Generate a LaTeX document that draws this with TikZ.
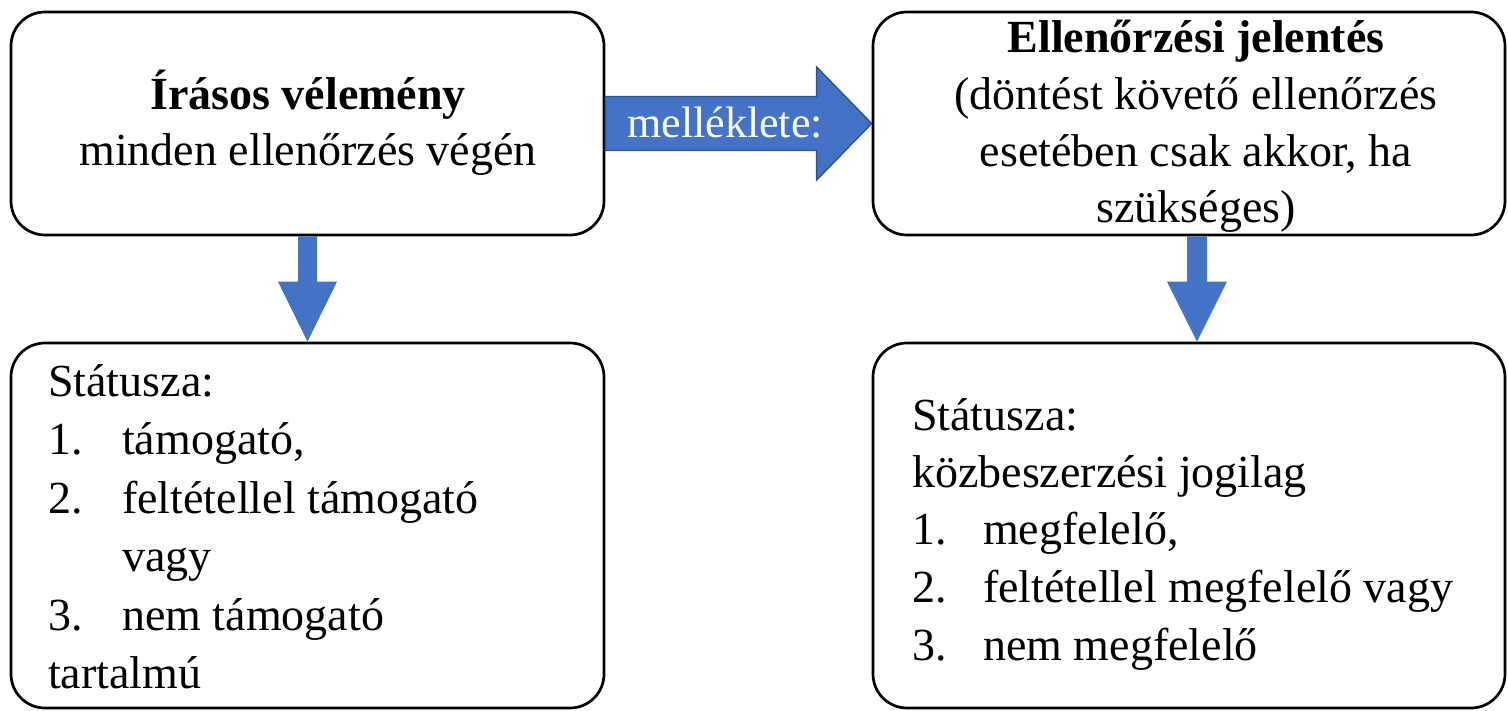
\documentclass[tikz,border=0pt]{standalone}
\usepackage{fontspec}
\setmainfont{Liberation Serif}
\usetikzlibrary{calc}
\definecolor{arrowblue}{HTML}{4472C4}
\definecolor{arrowedge}{HTML}{2F528F}
\tikzset{
  box/.style={draw=black, line width=2.7pt, rounded corners=34pt, fill=white, inner sep=0pt},
  txt/.style={inner sep=0pt, font=\fontsize{46}{57.5}\selectfont},
  blockarrow/.style={fill=arrowblue, draw=arrowedge, line width=1.4pt, line join=miter},
  downarrow/.style={fill=arrowblue},
}
\begin{document}
\begin{tikzpicture}[x=1pt,y=-1pt]
\useasboundingbox (0,0) rectangle (1508,711);
% boxes
\node[box, minimum width=593pt, minimum height=223pt] (A) at (307.5,123.5) {};
\node[box, minimum width=632pt, minimum height=223pt] (B) at (1189,123.5) {};
\node[box, minimum width=593pt, minimum height=365pt] (C) at (307.5,525.5) {};
\node[box, minimum width=632pt, minimum height=365pt] (D) at (1189,525.5) {};
% box A text
\node[txt, anchor=base] (Atitle) at (308,110) {\bfseries Írásos vélemény};
\node[txt, anchor=base] (Asub) at (308,166) {minden ellenőrzés végén};
% box B text
\node[txt, anchor=base] (Btitle) at (1196,53) {\bfseries Ellenőrzési jelentés};
\node[txt, anchor=base] (Bl1) at (1196,110) {(döntést követő ellenőrzés};
\node[txt, anchor=base] (Bl2) at (1196,167) {esetében csak akkor, ha};
\node[txt, anchor=base] (Bl3) at (1196,223) {szükséges)};
% box C list
\node[txt, anchor=base west] (Clist) at (48,396) {\fontsize{46}{58.6}\selectfont\begin{tabular}[t]{@{}p{74pt}@{}l@{}}
\multicolumn{2}{@{}l@{}}{Státusza:}\\
1. & támogató,\\
2. & feltétellel támogató\\
   & vagy\\
3. & nem támogató\\
\multicolumn{2}{@{}l@{}}{tartalmú}
\end{tabular}};
% box D list
\node[txt, anchor=base west] (Dlist) at (912,430) {\fontsize{46}{57.5}\selectfont\begin{tabular}[t]{@{}p{71pt}@{}l@{}}
\multicolumn{2}{@{}l@{}}{Státusza:}\\
\multicolumn{2}{@{}l@{}}{közbeszerzési jogilag}\\
1. & megfelelő,\\
2. & feltétellel megfelelő vagy\\
3. & nem megfelelő
\end{tabular}};
% right block arrow A -> B
\draw[blockarrow] ($(A.east)+(0,-27)$) -- ($(B.west)+(-55,-27)$) -- ($(B.west)+(-55,-56.5)$)
  -- (B.west) -- ($(B.west)+(-55,56.5)$) -- ($(B.west)+(-55,27)$) -- ($(A.east)+(0,27)$) -- cycle;
\node[txt, anchor=base, text=white, font=\fontsize{44}{52}\selectfont] (lbl) at (725,138) {melléklete:};
% down arrow A -> C
\fill[downarrow] ($(A.south)+(-9.5,0)$) -- ($(A.south)+(9.5,0)$) -- ($(C.north)+(9.5,-60)$)
  -- ($(C.north)+(29.5,-60)$) -- (C.north) -- ($(C.north)+(-29.5,-60)$) -- ($(C.north)+(-9.5,-60)$) -- cycle;
% down arrow B -> D
\coordinate (Bs) at ($(B.south)+(8,0)$);
\coordinate (Dn) at ($(D.north)+(8,0)$);
\fill[downarrow] ($(Bs)+(-10,0)$) -- ($(Bs)+(10,0)$) -- ($(Dn)+(10,-60)$)
  -- ($(Dn)+(30,-60)$) -- (Dn) -- ($(Dn)+(-30,-60)$) -- ($(Dn)+(-10,-60)$) -- cycle;
\end{tikzpicture}
\end{document}
